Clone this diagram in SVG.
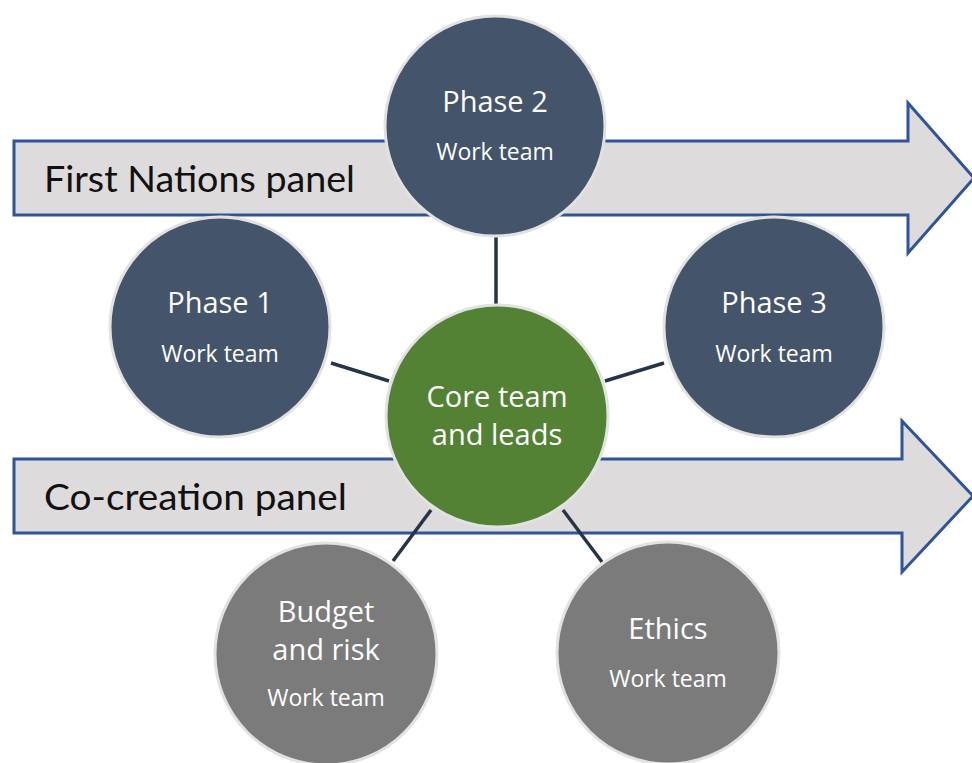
<svg xmlns="http://www.w3.org/2000/svg" width="972" height="763" viewBox="0 0 972 763">
  <style>
    .panel { fill: #DDDBDC; stroke: #2F5597; stroke-width: 3; stroke-linejoin: miter; }
    .panel-label { font-family: Lato, "Liberation Sans", sans-serif; font-size: 37px; fill: #111111; }
    .link { stroke: #263447; stroke-width: 3.5; fill: none; }
    .node { stroke: #E2E2E2; stroke-width: 3; }
    .team { fill: #44546A; }
    .core { fill: #548235; }
    .support { fill: #7B7B7B; }
    .title { font-family: "Open Sans", "Noto Sans", sans-serif; font-size: 29px; fill: #FFFFFF; text-anchor: middle; }
    .sub { font-family: "Open Sans", "Noto Sans", sans-serif; font-size: 23px; fill: #FFFFFF; text-anchor: middle; }
  </style>

  <!-- Panel arrows -->
  <g id="first-nations-panel">
    <path class="panel" d="M14,141 H908 V103 L974,178 L908,253 V215 H14 Z"/>
    <text class="panel-label" x="44" y="192" textLength="311" lengthAdjust="spacingAndGlyphs">First Nations panel</text>
  </g>
  <g id="co-creation-panel">
    <path class="panel" d="M14,459 H902 V421 L973,496 L902,572 V533 H14 Z"/>
    <text class="panel-label" x="44" y="510" textLength="303" lengthAdjust="spacingAndGlyphs">Co-creation panel</text>
  </g>

  <!-- Connectors from the core team to each work team -->
  <g id="connectors">
    <line class="link" x1="496" y1="237" x2="496" y2="306"/>
    <line class="link" x1="331" y1="363" x2="389" y2="381"/>
    <line class="link" x1="664" y1="363" x2="605" y2="381"/>
    <line class="link" x1="431" y1="510" x2="393" y2="561"/>
    <line class="link" x1="563" y1="510" x2="602" y2="562"/>
  </g>

  <!-- Nodes -->
  <g id="phase-2">
    <circle class="node team" cx="495" cy="126" r="110"/>
    <text class="title" x="495" y="112">Phase 2</text>
    <text class="sub" x="495" y="160">Work team</text>
  </g>
  <g id="phase-1">
    <circle class="node team" cx="220" cy="327" r="110"/>
    <text class="title" x="220" y="313">Phase 1</text>
    <text class="sub" x="220" y="362">Work team</text>
  </g>
  <g id="phase-3">
    <circle class="node team" cx="774" cy="327" r="110"/>
    <text class="title" x="774" y="313">Phase 3</text>
    <text class="sub" x="774" y="362">Work team</text>
  </g>
  <g id="core-team">
    <circle class="node core" cx="497" cy="416" r="111"/>
    <text class="title" x="497" y="407">Core team</text>
    <text class="title" x="497" y="445">and leads</text>
  </g>
  <g id="budget-risk">
    <circle class="node support" cx="326" cy="654" r="111"/>
    <text class="title" x="326" y="622">Budget</text>
    <text class="title" x="326" y="660">and risk</text>
    <text class="sub" x="326" y="706">Work team</text>
  </g>
  <g id="ethics">
    <circle class="node support" cx="668" cy="653" r="111"/>
    <text class="title" x="668" y="639">Ethics</text>
    <text class="sub" x="668" y="687">Work team</text>
  </g>
</svg>
